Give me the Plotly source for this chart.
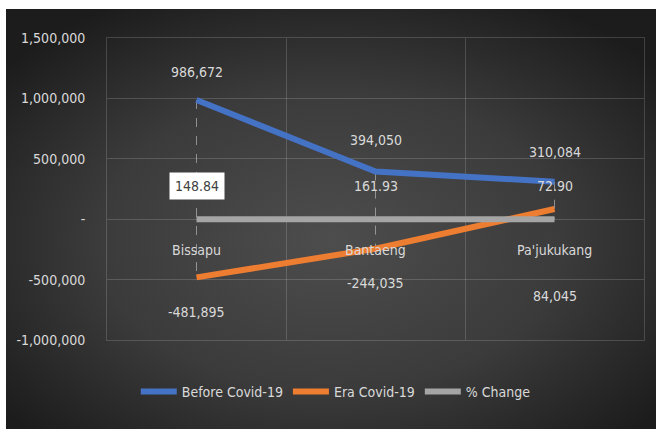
import base64
import plotly.graph_objects as go

categories = ["Bissapu", "Bantaeng", "Pa'jukukang"]
before_covid = [986672, 394050, 310084]
era_covid = [-481895, -244035, 84045]
pct_change = [148.84, 161.93, 72.90]
pct_labels = ["148.84", "161.93", "72.90"]
y_ticks = [-1000000, -500000, 0, 500000, 1000000, 1500000]
y_ticktext = ["-1,000,000", "-500,000", "-", "500,000", "1,000,000", "1,500,000"]

FONT = "DejaVu Sans Condensed, Liberation Sans Narrow, sans-serif"
FS = 14
TXT = "#d9d9d9"
GRID = "rgba(255,255,255,0.16)"

svg = """<svg xmlns='http://www.w3.org/2000/svg' width='650' height='420' preserveAspectRatio='none'>
<defs><radialGradient id='g' cx='50%' cy='55%' r='65%'>
<stop offset='0%' stop-color='#4d4d4d'/>
<stop offset='55%' stop-color='#3b3b3b'/>
<stop offset='100%' stop-color='#1c1c1c'/>
</radialGradient></defs>
<rect width='650' height='420' fill='url(#g)'/></svg>"""
bg_src = "data:image/svg+xml;base64," + base64.b64encode(svg.encode()).decode()

fig = go.Figure()

# high-low dashed lines
hx, hy = [], []
for i, c in enumerate(categories):
    vals = [before_covid[i], era_covid[i], pct_change[i]]
    hx += [c, c, None]
    hy += [max(vals), min(vals), None]
fig.add_trace(go.Scatter(x=hx, y=hy, mode="lines", showlegend=False, hoverinfo="skip",
                         line=dict(color="rgba(200,200,200,0.6)", width=1, dash="dash")))

fig.add_trace(go.Scatter(x=categories, y=before_covid, mode="lines", name="Before Covid-19",
                         line=dict(color="#4472C4", width=6)))
fig.add_trace(go.Scatter(x=categories, y=era_covid, mode="lines", name="Era Covid-19",
                         line=dict(color="#ED7D31", width=6)))
fig.add_trace(go.Scatter(x=categories, y=pct_change, mode="lines", name="% Change",
                         line=dict(color="#A5A5A5", width=6)))

ann = []
before_shift = [28, 32, 30]
era_shift = [-35, -34, -87]
for i, c in enumerate(categories):
    ann.append(dict(x=c, y=before_covid[i], text=f"{before_covid[i]:,}", yshift=before_shift[i],
                    showarrow=False, font=dict(family=FONT, size=FS, color=TXT)))
    ann.append(dict(x=c, y=era_covid[i], text=f"{era_covid[i]:,}", yshift=era_shift[i],
                    showarrow=False, font=dict(family=FONT, size=FS, color=TXT)))
    first = i == 0
    ann.append(dict(x=c, y=pct_change[i], text=pct_labels[i], yshift=33, showarrow=False,
                    bgcolor="white" if first else None, borderpad=5,
                    font=dict(family=FONT, size=FS, color="#404040" if first else TXT)))
    ann.append(dict(x=c, y=0, text=c, yshift=-31, showarrow=False,
                    font=dict(family=FONT, size=FS, color=TXT)))

fig.update_layout(
    width=656, height=429,
    margin=dict(l=107, r=12, t=38, b=89),
    paper_bgcolor="white",
    plot_bgcolor="rgba(0,0,0,0)",
    images=[dict(source=bg_src, xref="paper", yref="paper", x=-101/537, y=1 + 29/302,
                 sizex=650/537, sizey=420/302, sizing="stretch", layer="below",
                 xanchor="left", yanchor="top")],
    annotations=ann,
    showlegend=True,
    legend=dict(orientation="h", x=0.426, xanchor="center", y=-0.172, yanchor="middle",
                font=dict(family=FONT, size=FS, color=TXT), bgcolor="rgba(0,0,0,0)",
                itemwidth=36),
    xaxis=dict(type="category", tickson="boundaries", showgrid=True, gridcolor=GRID,
               showticklabels=False, ticks="", zeroline=False, range=[-0.5, 2.5],
               showline=True, mirror=True, linecolor=GRID, linewidth=1),
    yaxis=dict(range=[-1000000, 1500000], tickvals=y_ticks, ticktext=y_ticktext,
               showgrid=True, gridcolor=GRID, zeroline=False, ticks="",
               tickfont=dict(family=FONT, size=FS, color=TXT), ticklabelstandoff=18,
               showline=True, mirror=True, linecolor=GRID, linewidth=1),
)

fig.write_html("out.html")
